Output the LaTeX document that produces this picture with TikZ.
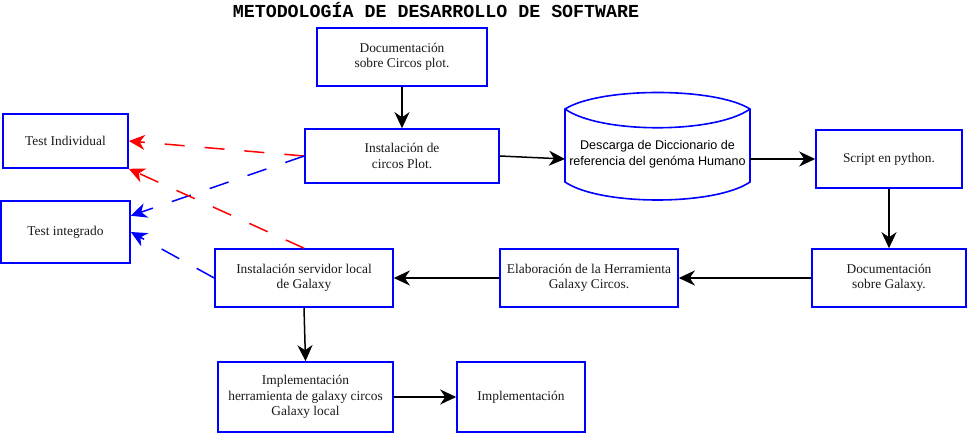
\documentclass[tikz,border=0pt]{standalone}
\usepackage{fontspec}
\setmainfont{Liberation Serif}
\newfontfamily\cylfont{Liberation Sans}
\newfontfamily\titlefont{Liberation Mono}
\usetikzlibrary{arrows.meta}
\begin{document}
\begin{tikzpicture}[x=1pt,y=-1pt,
  tip/.style={-{Stealth[length=16pt,width=15pt,inset=5pt]}},
  box/.style={draw=blue,line width=1.6pt,fill=white,inner sep=0pt,align=center,
    font=\fontsize{13.4}{15.5}\selectfont,text=black!90},
  flow/.style={line width=1.5pt,tip},
  rdash/.style={red,line width=1.5pt,dash pattern=on 20pt off 20pt,tip},
  bdash/.style={blue,line width=1.5pt,dash pattern=on 20pt off 20pt,tip}]
\useasboundingbox[fill=white] (0,0) rectangle (967,433);
\node[font=\titlefont\bfseries\fontsize{18.3}{20}\selectfont] (title) at (436,10) {METODOLOGÍA DE DESARROLLO DE SOFTWARE};
\node[box,minimum width=170pt,minimum height=58pt] (dc) at (402,57) {Documentación\\sobre Circos plot.};
\node[box,minimum width=194pt,minimum height=54pt] (ic) at (402,156) {Instalación de\\circos Plot.};
\node[box,minimum width=146pt,minimum height=58pt] (sp) at (889,159) {Script en python.};
\node[box,minimum width=154pt,minimum height=58pt] (dg) at (889,278) {Documentación\\sobre Galaxy.};
\node[box,minimum width=178pt,minimum height=58pt] (el) at (589,278) {Elaboración de la Herramienta\\Galaxy Circos.};
\node[box,minimum width=178pt,minimum height=58pt] (is) at (304,278) {Instalación servidor local\\de Galaxy};
\node[box,minimum width=175pt,minimum height=70pt] (ih) at (305.5,397) {Implementación\\herramienta de galaxy circos\\Galaxy local};
\node[box,minimum width=128pt,minimum height=70pt] (im) at (521,397) {Implementación};
\node[box,minimum width=125pt,minimum height=54pt] (ti) at (65.5,141) {Test Individual};
\node[box,minimum width=129pt,minimum height=62pt] (tg) at (65.5,232) {Test integrado};
% cylinder-like shape
\draw[blue,line width=1.6pt,fill=white] (565,109) .. controls (600,87) and (715,87) .. (750,109)
  -- (750,182) .. controls (715,206) and (600,206) .. (565,182) -- cycle;
\draw[blue,line width=1.6pt] (565,109) .. controls (600,134) and (715,134) .. (750,109);
\node[align=center,font=\cylfont\fontsize{12.6}{16}\selectfont,text=black,inner sep=0pt] (cyl) at (657.5,154) {Descarga de Diccionario de\\referencia del genóma Humano};
\coordinate (cylL) at (565,159);
\coordinate (cylR) at (750,159);
% flow arrows
\draw[flow] (dc) -- (ic);
\draw[flow] (ic.east) -- (cylL);
\draw[flow] (cylR) -- (sp.west);
\draw[flow] (sp) -- (dg);
\draw[flow] (dg) -- (el);
\draw[flow] (el) -- (is);
\draw[flow] (is.south) -- (ih.north);
\draw[flow] (ih) -- (im);
% dashed arrows
\draw[rdash] (ic.west) -- (ti.east);
\draw[bdash] (ic.west) -- (tg.14);
\draw[rdash] (is.north) -- (ti.south east);
\draw[bdash] (is.west) -- (tg.east);
\end{tikzpicture}
\end{document}
